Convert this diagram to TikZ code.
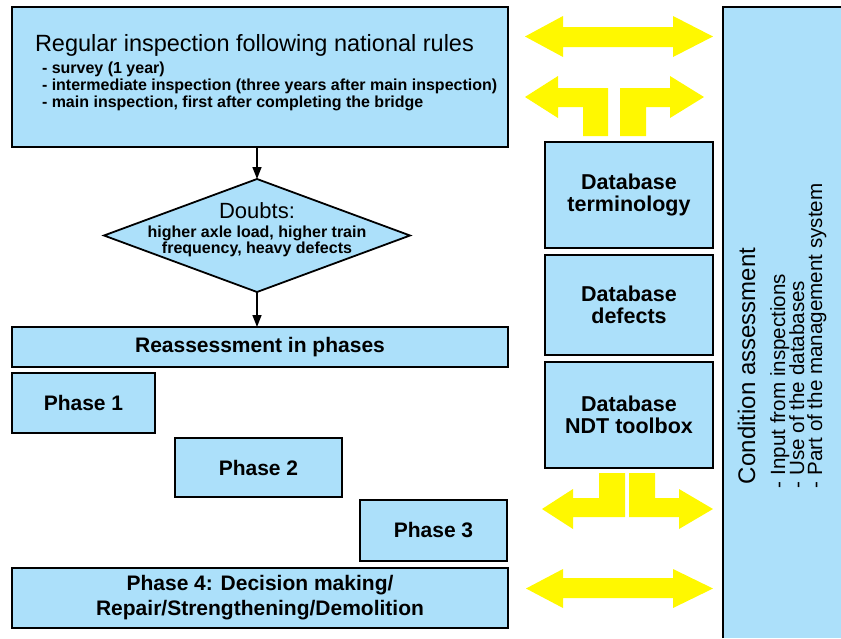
\documentclass[tikz,border=0pt]{standalone}
\usepackage{fontspec}
\setmainfont{Liberation Sans}
\usetikzlibrary{shapes.geometric,arrows.meta}
\definecolor{boxfill}{RGB}{172,224,250}
\definecolor{arrowyellow}{RGB}{255,248,0}
\begin{document}
\begin{tikzpicture}[x=1pt,y=-1pt,
  box/.style={draw=black,line width=1.8pt,fill=boxfill,inner sep=0pt,outer sep=0pt},
  flow/.style={-{Triangle[length=12pt,width=9pt]},line width=1.4pt},
  yarrow/.style={fill=arrowyellow,draw=none},
  titlefont/.style={font=\fontsize{23.5}{26}\selectfont},
  itemfont/.style={font=\fontsize{16}{17}\selectfont\bfseries},
  phasefont/.style={font=\fontsize{21}{25}\selectfont\bfseries},
  dbfont/.style={font=\fontsize{21.5}{22}\selectfont\bfseries},
  condfont/.style={font=\fontsize{24}{26}\selectfont},
  conditem/.style={font=\fontsize{20.6}{22}\selectfont},
  txt/.style={inner sep=0pt,outer sep=0pt}
]
\useasboundingbox (0,0) rectangle (841,638);

% right panel
\path[fill=boxfill] (723,7) rectangle (841,638);
\draw[line width=1.8pt] (723,638) -- (723,7) -- (841,7);
\node[txt,condfont,rotate=90,anchor=base west] (cond0) at (755,484) {Condition assessment};
\node[txt,conditem,rotate=90,anchor=base west] (cond1) at (785,488) {- Input from inspections};
\node[txt,conditem,rotate=90,anchor=base west] (cond2) at (804,488) {- Use of the databases};
\node[txt,conditem,rotate=90,anchor=base west] (cond3) at (822,488) {- Part of the management system};

% top inspection box
\node[box,minimum width=496pt,minimum height=140pt] (insp) at (260,77) {};
\node[txt,titlefont,anchor=base west] (insptitle) at (35,51) {Regular inspection following national rules};
\node[txt,itemfont,anchor=base west] (item1) at (42,73) {- survey (1 year)};
\node[txt,itemfont,anchor=base west] (item2) at (42,90) {- intermediate inspection (three years after main inspection)};
\node[txt,itemfont,anchor=base west] (item3) at (42,107) {- main inspection, first after completing the bridge};

% diamond
\node[diamond,draw=black,line width=1.8pt,fill=boxfill,minimum width=306pt,minimum height=113pt,inner sep=0pt,outer sep=0pt] (doubt) at (257,235.5) {};
\node[txt,font=\fontsize{22}{22}\selectfont,anchor=base] (dtitle) at (257,218) {Doubts:};
\node[txt,itemfont,anchor=base] (dl1) at (257,237) {higher axle load, higher train};
\node[txt,itemfont,anchor=base] (dl2) at (257,253) {frequency, heavy defects};

% reassessment and phases
\node[box,phasefont,minimum width=496pt,minimum height=40pt] (reass) at (260,347) {Reassessment in phases};
\node[box,phasefont,minimum width=143pt,minimum height=60pt] (ph1) at (83.5,403) {Phase 1};
\node[box,phasefont,minimum width=167pt,minimum height=59pt] (ph2) at (258.5,467.5) {Phase 2};
\node[box,phasefont,minimum width=147pt,minimum height=61pt] (ph3) at (433.5,530.5) {Phase 3};
\node[box,phasefont,align=center,minimum width=496pt,minimum height=60pt] (ph4) at (260,598) {Phase 4: Decision making/\\Repair/Strengthening/Demolition};

% databases
\node[box,dbfont,align=center,minimum width=168pt,minimum height=106pt] (db1) at (629,195) {Database\\terminology};
\node[box,dbfont,align=center,minimum width=168pt,minimum height=100pt] (db2) at (629,305) {Database\\defects};
\node[box,dbfont,align=center,minimum width=168pt,minimum height=106pt] (db3) at (629,415) {Database\\NDT toolbox};

% flow arrows
\draw[flow] (insp.south -| doubt.north) -- (doubt.north);
\draw[flow] (doubt.south) -- (doubt.south |- reass.north);

% yellow arrows
\fill[yarrow] (525,36.5) -- (563,16) -- (563,27) -- (673,27) -- (673,16) -- (713,36.5) -- (673,57) -- (673,47) -- (563,47) -- (563,57) -- cycle;
\fill[yarrow] (525,97) -- (558,76) -- (558,88) -- (608,88) -- (608,136) -- (583,136) -- (583,107) -- (558,107) -- (558,118) -- cycle;
\fill[yarrow] (704,97) -- (670,76) -- (670,88) -- (620,88) -- (620,136) -- (646,136) -- (646,107) -- (670,107) -- (670,118) -- cycle;
\fill[yarrow] (542,509) -- (573,489) -- (573,498) -- (599,498) -- (599,473) -- (625,473) -- (625,517) -- (573,517) -- (573,529) -- cycle;
\fill[yarrow] (713,509) -- (679,489) -- (679,498) -- (655,498) -- (655,473) -- (629,473) -- (629,517) -- (679,517) -- (679,529) -- cycle;
\fill[yarrow] (526,588.5) -- (563,569) -- (563,578) -- (673,578) -- (673,569) -- (713,588.5) -- (673,608) -- (673,598) -- (563,598) -- (563,608) -- cycle;
\end{tikzpicture}
\end{document}
